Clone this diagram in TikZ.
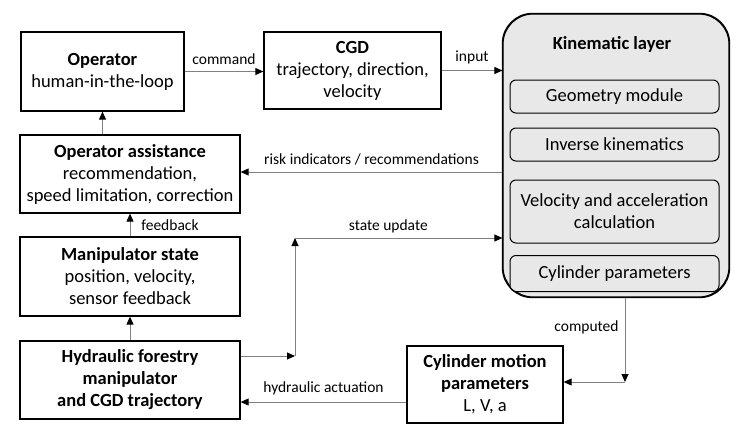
\documentclass[tikz,border=0pt]{standalone}
\usepackage{fontspec}
\setmainfont{Carlito}
\usepackage{xcolor}
\usetikzlibrary{arrows.meta}
\definecolor{layergray}{HTML}{E8E8E8}
\definecolor{linegray}{HTML}{808080}

\begin{document}
\begin{tikzpicture}[
    x=1pt,y=-1pt,
    block/.style={draw,line width=1.3pt,fill=white,align=center,inner sep=2pt,
      font=\fontsize{18.5}{22}\selectfont},
    layer/.style={draw,line width=1.2pt,fill=layergray,rounded corners=30pt},
    module/.style={draw,line width=1pt,fill=layergray,rounded corners=6pt,align=center,
      minimum width=209pt,font=\fontsize{18.5}{22}\selectfont},
    lbl/.style={font=\fontsize{15.5}{18}\selectfont,inner sep=1pt},
    arr/.style={draw=linegray,line width=0.9pt,-{Triangle[length=8pt,width=7pt,color=black]}}
  ]
    \useasboundingbox (0,0) rectangle (739,437);

    \node[block,minimum width=163pt,minimum height=79pt] (operator) at (102.5,71.5)
      {\textbf{Operator}\\human-in-the-loop};
    \node[block,minimum width=177pt,minimum height=77pt] (cgd) at (352.5,70.5)
      {\textbf{CGD}\\trajectory, direction,\\velocity};
    \node[block,minimum width=220pt,minimum height=78pt] (assist) at (130,174)
      {\textbf{Operator assistance}\\recommendation,\\speed limitation, correction};
    \node[block,minimum width=220pt,minimum height=79pt] (mstate) at (130,276.5)
      {\textbf{Manipulator state}\\position, velocity,\\sensor feedback};
    \node[block,minimum width=220pt,minimum height=78pt] (hyd) at (130,380)
      {\textbf{Hydraulic forestry}\\\textbf{manipulator}\\\textbf{and CGD trajectory}};
    \node[block,minimum width=156pt,minimum height=77pt] (cmp) at (485,384.5)
      {\textbf{Cylinder motion}\\\textbf{parameters}\\L, V, a};

    % kinematic layer with its modules
    \node[layer,minimum width=226pt,minimum height=283pt] (kin) at (616,155.5) {};
    \node[font=\fontsize{18.5}{22}\selectfont\bfseries] (kintitle) at (612,44) {Kinematic layer};
    \node[module,minimum height=33pt] (geom) at (614.5,96.5) {Geometry module};
    \node[module,minimum height=33pt] (ik) at (614.5,144.5) {Inverse kinematics};
    \node[module,minimum height=63pt] (vel) at (614.5,211.5) {Velocity and acceleration\\calculation};
    \node[module,minimum height=36pt] (cyl) at (614.5,273.5) {Cylinder parameters};
    \draw[line width=1.2pt,rounded corners=30pt] (kin.south west) rectangle (kin.north east);

    \coordinate (su1) at (295,356);
    \coordinate (su2) at (295,238);
    \coordinate (cp) at (625,382);
    \coordinate (rk) at (0,172);
    \coordinate (ha) at (0,402);

    \draw[arr] (operator.east) -- (operator.east -| cgd.west)
      node[lbl,midway,above=5pt] (command) {command};
    \draw[arr] (cgd.east) -- (cgd.east -| kin.west)
      node[lbl,midway,above=5pt] (input) {input};
    \draw[arr] (assist.north -| operator) -- (operator.south);
    \draw[arr] (kin.west |- rk) -- (assist.east |- rk)
      node[lbl,midway,above=5pt] (risk) {risk indicators / recommendations};
    \draw[arr] (mstate.north) -- (assist.south)
      node[lbl,midway,right=10pt] (feedback) {feedback};
    \draw[arr] (hyd.east |- su1) -- (su1);
    \draw[arr] (su1) -- (su2);
    \draw[arr] (su2) -- (su2 -| kin.west)
      node[lbl,pos=0.45,above=4pt] (stateupd) {state update};
    \draw[arr] (hyd.north) -- (mstate.south);
    \draw[arr] (kin.south -| cp) -- (cp)
      node[lbl,pos=0.35,left=5pt] (computed) {computed};
    \draw[arr] (cp) -- (cp -| cmp.east);
    \draw[arr] (cmp.west |- ha) -- (hyd.east |- ha)
      node[lbl,midway,above=6pt] (hydact) {hydraulic actuation};
  \end{tikzpicture}
\end{document}
